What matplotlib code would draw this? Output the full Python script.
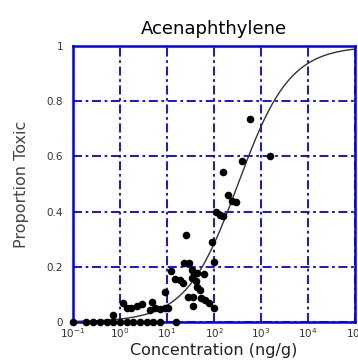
import numpy as np
import matplotlib
matplotlib.use('Agg')
import matplotlib.pyplot as plt

plt.rcParams['font.family'] = ['DejaVu Sans']
plt.rcParams['mathtext.fontset'] = 'dejavusans'

# observed points: log10(concentration), proportion toxic
log_conc = [-1.0, -0.72, -0.58, -0.43, -0.28, -0.15, 0.0, 0.14, 0.27, 0.42, 0.57, 0.70, 0.85, 1.2,
            -0.15, 0.06, 0.14, 0.24, 0.35, 0.46, 0.67, 0.63, 0.74, 0.84, 0.95, 1.02,
            0.95, 1.08, 1.16, 1.27, 1.33, 1.36, 1.47, 1.40, 1.45, 1.55, 1.54, 1.57, 1.64,
            1.54, 1.61, 1.64, 1.70, 1.73, 1.79, 1.80, 1.89, 1.55, 1.99, 1.95, 1.99,
            2.05, 2.12, 2.19, 2.30, 2.39, 2.46, 2.20, 2.60, 3.18, 2.77]
prop_toxic = [0.0, 0.0, 0.0, 0.0, 0.0, 0.0, 0.0, 0.0, 0.0, 0.0, 0.0, 0.0, 0.0, 0.0,
              0.024, 0.067, 0.049, 0.052, 0.057, 0.064, 0.073, 0.043, 0.049, 0.045, 0.049, 0.049,
              0.109, 0.185, 0.154, 0.152, 0.140, 0.212, 0.215, 0.315, 0.091, 0.089, 0.188, 0.173, 0.178,
              0.158, 0.149, 0.125, 0.115, 0.085, 0.173, 0.079, 0.067, 0.057, 0.052, 0.289, 0.216,
              0.397, 0.388, 0.384, 0.461, 0.44, 0.433, 0.543, 0.585, 0.60, 0.737]

# fitted logistic model (in log10 units)
fit_center = 2.51
fit_slope = 1.82

x_curve = np.linspace(-1, 5, 400)
y_curve = 1 / (1 + np.exp(-fit_slope * (x_curve - fit_center)))

fig = plt.figure(figsize=(3.58, 3.6), dpi=100)
ax = fig.add_axes([0.204, 0.106, 0.788, 0.766])

ax.plot(10 ** x_curve, y_curve, color='#333333', lw=1.0, zorder=3)
ax.scatter(10 ** np.array(log_conc), prop_toxic, s=30, color='black', linewidths=0,
           zorder=4, clip_on=False)

ax.set_xscale('log')
ax.set_xlim(1e-1, 1e5)
ax.set_ylim(0, 1)
ax.set_xticks([1e-1, 1e0, 1e1, 1e2, 1e3, 1e4, 1e5])
ax.set_xticks([], minor=True)
ax.set_yticks([0, 0.2, 0.4, 0.6, 0.8, 1])
ax.set_yticklabels(['0', '0.2', '0.4', '0.6', '0.8', '1'])

ax.grid(True, color='#0000ee', linestyle=(0, (5, 2, 1.5, 2)), lw=1.3)
for s in ax.spines.values():
    s.set_color('#0000ee')
    s.set_linewidth(1.8)

ax.tick_params(length=0, labelsize=7.5, labelcolor='#333333')
ax.tick_params(axis='y', pad=7)
ax.tick_params(axis='x', pad=3)

ax.set_title('Acenaphthylene', fontsize=13, pad=9)
ax.set_xlabel('Concentration (ng/g)', fontsize=11.5, color='#222222')
ax.set_ylabel('Proportion Toxic', fontsize=11.5, color='#444444')
ax.xaxis.set_label_coords(0.5, -0.075)
ax.yaxis.set_label_coords(-0.155, 0.5)

fig.savefig('out.png', dpi=100)
